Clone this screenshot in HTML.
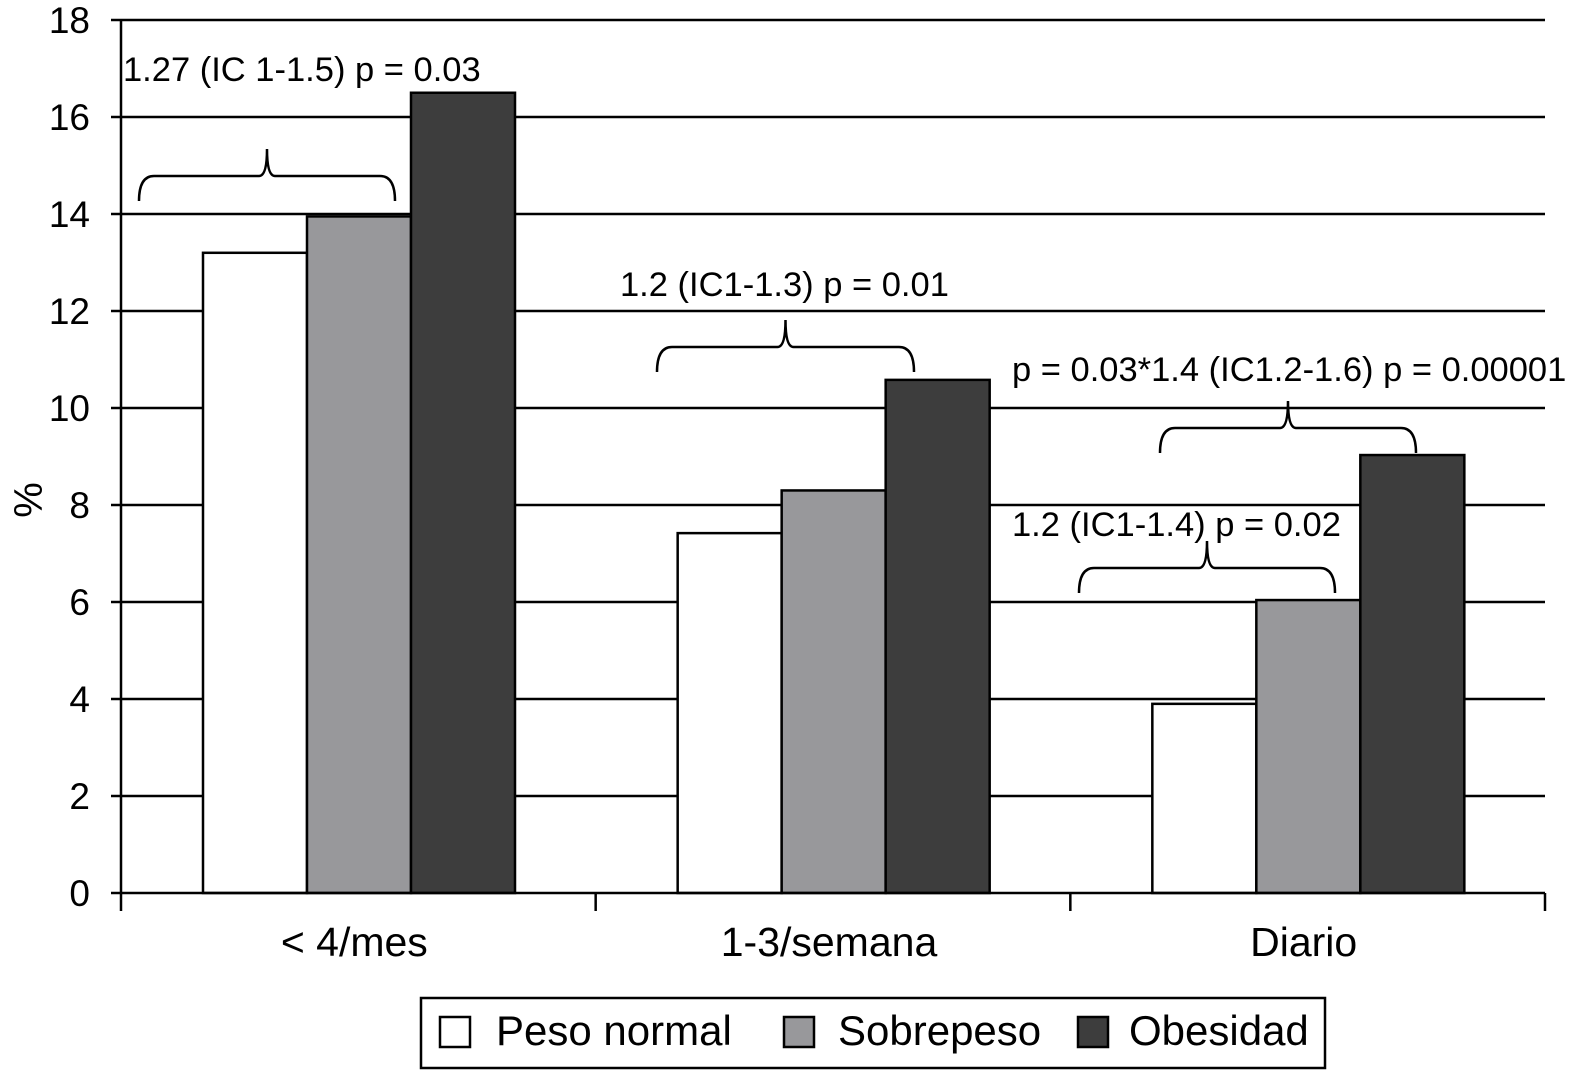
<!DOCTYPE html>
<html><head><meta charset="utf-8"><style>
html,body{margin:0;padding:0;background:#fff;}
svg{display:block;font-family:"Liberation Sans",Arial,sans-serif;}
</style></head><body>
<svg id="chart" width="1575" height="1075" viewBox="0 0 1575 1075">
<g id="grid"></g>
<g id="bars"></g>
<g id="axes"></g>
<g id="annot"></g>
<text x="42" y="500" font-size="40" text-anchor="middle" transform="rotate(-90 42 500)">%</text>
<g>
<rect x="421" y="998" width="904" height="70" fill="#fff" stroke="#000" stroke-width="2.5"/>
<g><rect x="440" y="1017" width="30" height="30" fill="#fff" stroke="#000" stroke-width="2.5"/><text x="496" y="1045" font-size="42">Peso normal</text></g>
<g><rect x="784" y="1017" width="30" height="30" fill="#98989b" stroke="#000" stroke-width="2.5"/><text x="838" y="1045" font-size="42">Sobrepeso</text></g>
<g><rect x="1078" y="1017" width="30" height="30" fill="#3d3d3d" stroke="#000" stroke-width="2.5"/><text x="1129" y="1045" font-size="42">Obesidad</text></g>
</g>
</svg>
<script>
const categories=["< 4/mes","1-3/semana","Diario"];
const pesoNormal=[13.2,7.42,3.9];
const sobrepeso=[13.95,8.3,6.04];
const obesidad=[16.5,10.58,9.03];
const yTicks=[0,2,4,6,8,10,12,14,16,18];
const seriesColors=["#ffffff","#98989b","#3d3d3d"];
const seriesNames=["peso-normal","sobrepeso","obesidad"];
const NS="http://www.w3.org/2000/svg";
const x0=121,x1=1545,yBase=893,yTop=20,yMax=18;
const y=v=>yBase-(v/yMax)*(yBase-yTop);
const catW=(x1-x0)/categories.length;
const barW=104,groupOff=82;
function mk(t,a,p){const e=document.createElementNS(NS,t);for(const k in a)e.setAttribute(k,a[k]);p.appendChild(e);return e;}
const grid=document.getElementById('grid'),bars=document.getElementById('bars'),axes=document.getElementById('axes'),annot=document.getElementById('annot');
yTicks.forEach(t=>{
 if(t>0){const l=mk('line',{x1:x0,x2:x1,y1:y(t),y2:y(t),stroke:'#000','stroke-width':2.5},grid);
 
 }
 const tk=mk('line',{x1:x0-10,x2:x0,y1:y(t),y2:y(t),stroke:'#000','stroke-width':2.5},axes);
 
 
 const tx=mk('text',{x:90,y:y(t)+13,'font-size':37,'text-anchor':'end'},axes);tx.textContent=t;
 
 
});
const series=[pesoNormal,sobrepeso,obesidad];
categories.forEach((c,i)=>{
 const gx=x0+i*catW+groupOff;
 series.forEach((s,j)=>{
  const r=mk('rect',{x:gx+j*barW,y:y(s[i]),width:barW,height:yBase-y(s[i]),fill:seriesColors[j],stroke:'#000','stroke-width':2.5},bars);
  
  
 });
 const lb=mk('text',{x:x0+(i+0.5)*catW-4,y:956,'font-size':41,'text-anchor':'middle'},axes);lb.textContent=c;
 
 
});
for(let i=0;i<=categories.length;i++){
 const xx=x0+i*catW;
 const tk=mk('line',{x1:xx,x2:xx,y1:yBase,y2:yBase+18,stroke:'#000','stroke-width':2.5},axes);
 
 
}
const ya=mk('line',{x1:x0,x2:x0,y1:yTop,y2:yBase,stroke:'#000','stroke-width':2.5},axes);


const xa=mk('line',{x1:x0,x2:x1,y1:yBase,y2:yBase,stroke:'#000','stroke-width':2.5},axes);


function brace(xa,xb,yh,label,lx,ly,name){
 const xm=(xa+xb)/2;
 const d=`M${xa},${yh+25} Q${xa},${yh} ${xa+15},${yh} L${xm-8},${yh} Q${xm},${yh} ${xm},${yh-27} Q${xm},${yh} ${xm+8},${yh} L${xb-15},${yh} Q${xb},${yh} ${xb},${yh+25}`;
 const p=mk('path',{d:d,fill:'none',stroke:'#000','stroke-width':2.5},annot);
 
 
 const t=mk('text',{x:lx,y:ly,'font-size':34.5},annot);t.textContent=label;
 
 
}
brace(139,395,176,"1.27 (IC 1-1.5) p = 0.03",123,81,'annotation-1');
brace(657,914,347,"1.2 (IC1-1.3) p = 0.01",620,296,'annotation-2');
brace(1160,1416,428,"p = 0.03*1.4 (IC1.2-1.6) p = 0.00001",1012,381,'annotation-3');
brace(1079,1335,568,"1.2 (IC1-1.4) p = 0.02",1012,536,'annotation-4');
</script>
</body></html>
